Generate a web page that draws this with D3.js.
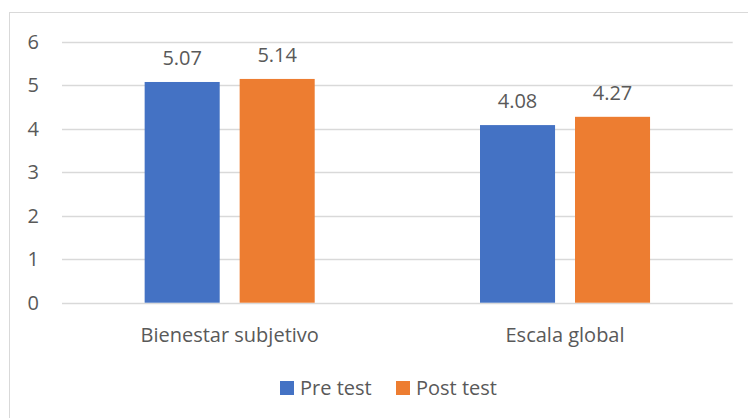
<!DOCTYPE html>
<html>
<head>
<meta charset="utf-8">
<script src="https://cdn.jsdelivr.net/npm/d3@7"></script>
<style>
  body { margin: 0; background: #fff; }
  text { font-family: "Open Sans", sans-serif; fill: #595959; }
</style>
</head>
<body>
<svg id="chart" width="748" height="418"></svg>
<script>
// data
var categories = ["Bienestar subjetivo", "Escala global"];
var seriesNames = ["Pre test", "Post test"];
var preTest = [5.07, 4.08];
var postTest = [5.14, 4.27];
var yTicks = [0, 1, 2, 3, 4, 5, 6];
var colors = ["#4472C4", "#ED7D31"];

var svg = d3.select("#chart");
var margin = {top: 41.5, left: 62, right: 15.3, bottom: 115.3};
var W = 748, H = 418;

// chart border
svg.append("rect")
    .attr("x", 9.5).attr("y", 12.5)
    .attr("width", W).attr("height", H)
    .attr("fill", "none").attr("stroke", "#d9d9d9");

var x = d3.scaleBand()
    .domain(categories)
    .range([margin.left, W - margin.right]);

var x1 = d3.scaleBand()
    .domain(seriesNames)
    .range([0, x.bandwidth()])
    .paddingInner(0.21)
    .paddingOuter(0.87);

var y = d3.scaleLinear()
    .domain([0, 6])
    .range([H - margin.bottom, margin.top]);

// gridlines
svg.append("g").selectAll("line")
    .data(yTicks)
    .enter().append("line")
    .attr("x1", margin.left).attr("x2", W - margin.right)
    .attr("y1", function(d){ return Math.round(y(d)) + 0.5; })
    .attr("y2", function(d){ return Math.round(y(d)) + 0.5; })
    .attr("stroke", "#d9d9d9").attr("stroke-width", 1.3);

// y labels
svg.append("g").selectAll("text")
    .data(yTicks)
    .enter().append("text")
    .attr("x", 39)
    .attr("y", function(d){ return y(d); })
    .attr("dy", "0.36em")
    .attr("text-anchor", "end")
    .style("font-size", "20px")
    .text(function(d){ return d; });

var rows = categories.map(function(c, i){
  return {cat: c, vals: [preTest[i], postTest[i]]};
});

var groups = svg.append("g").selectAll("g")
    .data(rows)
    .enter().append("g")
    .attr("transform", function(d){ return "translate(" + x(d.cat) + ",0)"; });

groups.selectAll("rect")
    .data(function(d){ return d.vals.map(function(v, j){ return {s: seriesNames[j], v: v, j: j}; }); })
    .enter().append("rect")
    .attr("x", function(d){ return x1(d.s); })
    .attr("width", x1.bandwidth())
    .attr("y", function(d){ return y(d.v); })
    .attr("height", function(d){ return y(0) - y(d.v); })
    .attr("fill", function(d){ return colors[d.j]; });

groups.selectAll("text.lbl")
    .data(function(d){ return d.vals.map(function(v, j){ return {s: seriesNames[j], v: v}; }); })
    .enter().append("text")
    .attr("class", "lbl")
    .attr("x", function(d){ return x1(d.s) + x1.bandwidth() / 2; })
    .attr("y", function(d){ return y(d.v) - 17; })
    .attr("text-anchor", "middle")
    .style("font-size", "20px")
    .text(function(d){ return d.v.toFixed(2); });

// category labels
svg.append("g").selectAll("text")
    .data(categories)
    .enter().append("text")
    .attr("x", function(d){ return x(d) + x.bandwidth() / 2; })
    .attr("y", 342)
    .attr("text-anchor", "middle")
    .style("font-size", "20px")
    .text(function(d){ return d; });

// legend
var legendX = [280, 396];
var legend = svg.append("g").selectAll("g")
    .data(seriesNames)
    .enter().append("g")
    .attr("transform", function(d, i){ return "translate(" + legendX[i] + ",381)"; });
legend.append("rect")
    .attr("width", 14).attr("height", 14)
    .attr("fill", function(d, i){ return colors[i]; });
legend.append("text")
    .attr("x", 20).attr("y", 14)
    .style("font-size", "20px")
    .text(function(d){ return d; });
</script>
</body>
</html>
